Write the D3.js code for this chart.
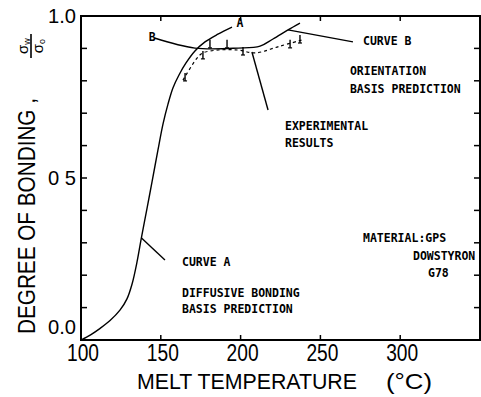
<!DOCTYPE html>
<html><head><meta charset="utf-8">
<script src="https://cdn.jsdelivr.net/npm/d3@7"></script>
<style>
html,body{margin:0;padding:0;background:#fff;}
svg{display:block;}
.ann{font-family:"DejaVu Sans Mono",monospace;font-weight:bold;font-size:11.5px;fill:#000;}
.big{font-family:"Liberation Sans",Arial,sans-serif;fill:#000;}
</style></head>
<body>
<svg id="c" width="481" height="397"></svg>
<script>
// ---- data ----
const xTicks = [100, 150, 200, 250, 300];
const xTickLabels = ["100", "150", "200", "250", "300"];
const yTicks = [0.0, 0.5, 1.0];
const yTickLabels = ["0.0", "0 5", "1.0"];
const yMinorTicks = [0.1,0.2,0.3,0.4,0.5,0.6,0.7,0.8,0.9];
// Curve A: diffusive bonding basis prediction
const curveA_T = [100, 106, 112, 118.2, 124.4, 128.8, 132.0, 135.1, 137.6, 141.4, 144.5, 148.2, 151.4, 154.5, 157.6, 161.4, 165.8, 171.4, 177.7, 185.8, 194.6];
const curveA_V = [0.0, 0.016, 0.036, 0.060, 0.092, 0.127, 0.173, 0.241, 0.309, 0.407, 0.488, 0.586, 0.667, 0.728, 0.778, 0.818, 0.855, 0.892, 0.920, 0.944, 0.966];
// Curve B: orientation basis prediction
const curveB_T = [146, 171.4, 198.4, 212.2, 220.3, 229.7, 237.2];
const curveB_V = [0.932, 0.901, 0.901, 0.907, 0.929, 0.957, 0.978];
// Experimental results (dashed)
const expLine_T = [163.9, 172.7, 176.4, 186, 198.4, 209, 224.7, 238.5];
const expLine_V = [0.802, 0.870, 0.886, 0.895, 0.895, 0.886, 0.907, 0.926];
const expPts_T = [165.2, 176.4, 180.8, 191.5, 201.5, 231, 237.2];
const expPts_V = [0.812, 0.880, 0.914, 0.914, 0.892, 0.914, 0.929];
// annotations: [text, T, V]
const annotations = [
  ["CURVE A", 163.3, 0.228],
  ["DIFFUSIVE BONDING", 163.3, 0.133],
  ["BASIS PREDICTION", 163.3, 0.083],
  ["CURVE B", 276.7, 0.910],
  ["ORIENTATION", 268.5, 0.818],
  ["BASIS PREDICTION", 268.5, 0.762],
  ["EXPERIMENTAL", 227.8, 0.648],
  ["RESULTS", 227.8, 0.596],
  ["MATERIAL:GPS", 276.7, 0.302],
  ["DOWSTYRON", 308, 0.247],
  ["G78", 317.4, 0.194],
  ["B", 142.5, 0.922],
  ["A", 197.5, 0.965]
];
// leader lines: [T1, V1, T2, V2]
const leaders = [
  [137.9, 0.315, 152.6, 0.247],
  [229.7, 0.957, 270.4, 0.920],
  [207.1, 0.889, 217.2, 0.710]
];

// ---- chart ----
const svg = d3.select("#c");
const x = d3.scaleLinear().domain([100, 350]).range([81, 480]);
const y = d3.scaleLinear().domain([0, 1]).range([340, 16]);

const g = svg.append("g");
// frame
g.append("rect").attr("x", x(100)).attr("y", y(1)).attr("width", x(350)-x(100)).attr("height", y(0)-y(1))
  .attr("fill","none").attr("stroke","#000").attr("stroke-width",2);

// ticks
g.selectAll(".lt").data(yMinorTicks).enter().append("line")
  .attr("x1", x(100)).attr("x2", x(100)+6).attr("y1", d=>y(d)).attr("y2", d=>y(d))
  .attr("stroke","#000").attr("stroke-width",1.5);
g.selectAll(".rt").data(yMinorTicks).enter().append("line")
  .attr("x1", x(350)).attr("x2", x(350)-6).attr("y1", d=>y(d)).attr("y2", d=>y(d))
  .attr("stroke","#000").attr("stroke-width",1.5);
g.selectAll(".tt").data(xTicks.slice(1)).enter().append("line")
  .attr("x1", d=>x(d)).attr("x2", d=>x(d)).attr("y1", y(1)).attr("y2", y(1)+5)
  .attr("stroke","#000").attr("stroke-width",1.5);
g.selectAll(".bt").data(xTicks.slice(1)).enter().append("line")
  .attr("x1", d=>x(d)).attr("x2", d=>x(d)).attr("y1", y(0)).attr("y2", y(0)-5)
  .attr("stroke","#000").attr("stroke-width",1.5);

// tick labels
g.selectAll(".yl").data(yTicks).enter().append("text").attr("class","big")
  .attr("x", 76).attr("y", (d,i)=> y(d) + (d===0 ? -6 : 7))
  .attr("text-anchor","end").attr("font-size",21)
  .attr("textLength",28).attr("lengthAdjust","spacingAndGlyphs")
  .text((d,i)=>yTickLabels[i]);
g.selectAll(".xl").data(xTicks).enter().append("text").attr("class","big")
  .attr("x", d=>x(d)+2).attr("y", 361)
  .attr("text-anchor","middle").attr("font-size",23)
  .attr("textLength",32).attr("lengthAdjust","spacingAndGlyphs")
  .text((d,i)=>xTickLabels[i]);

// axis titles
svg.append("text").attr("class","big").attr("x",137).attr("y",389).attr("font-size",22)
  .attr("textLength",220).attr("lengthAdjust","spacingAndGlyphs").text("MELT TEMPERATURE");
svg.append("text").attr("class","big").attr("x",386).attr("y",389).attr("font-size",22)
  .attr("textLength",46).attr("lengthAdjust","spacingAndGlyphs").text("(°C)");
svg.append("text").attr("class","big").attr("transform","translate(35,334) rotate(-90)")
  .attr("x",0).attr("y",0).attr("font-size",24)
  .attr("textLength",236).attr("lengthAdjust","spacingAndGlyphs").text("DEGREE  OF  BONDING ,");
// sigma ratio (rotated)
const sg = svg.append("g").attr("transform","translate(31,46) rotate(-90)");
sg.append("line").attr("x1",-12).attr("x2",12).attr("y1",0).attr("y2",0).attr("stroke","#000").attr("stroke-width",1.6);
const num = sg.append("text").attr("class","big").attr("x",0).attr("y",-3).attr("text-anchor","middle").attr("font-size",15);
num.append("tspan").text("σ"); num.append("tspan").attr("font-size",9).attr("dy",2).text("w");
const den = sg.append("text").attr("class","big").attr("x",0).attr("y",12).attr("text-anchor","middle").attr("font-size",15);
den.append("tspan").text("σ"); den.append("tspan").attr("font-size",9).attr("dy",2).text("o");

// curves
const line = d3.line().x(d=>x(d[0])).y(d=>y(d[1])).curve(d3.curveCatmullRom.alpha(0.5));
const A = curveA_T.map((t,i)=>[t, curveA_V[i]]);
const B = curveB_T.map((t,i)=>[t, curveB_V[i]]);
const E = expLine_T.map((t,i)=>[t, expLine_V[i]]);
g.append("path").attr("d", line(A)).attr("fill","none").attr("stroke","#000").attr("stroke-width",1.4);
g.append("path").attr("d", line(B)).attr("fill","none").attr("stroke","#000").attr("stroke-width",1.4);
g.append("path").attr("d", line(E)).attr("fill","none").attr("stroke","#000").attr("stroke-width",1.2)
  .attr("stroke-dasharray","3,3");
// experimental points (error-bar marks)
const P = expPts_T.map((t,i)=>[t, expPts_V[i]]);
g.selectAll(".ep").data(P).enter().append("line")
  .attr("x1", d=>x(d[0])).attr("x2", d=>x(d[0])).attr("y1", d=>y(d[1])-4).attr("y2", d=>y(d[1])+4)
  .attr("stroke","#000").attr("stroke-width",1.4);
g.selectAll(".ep2").data(P).enter().append("line")
  .attr("x1", d=>x(d[0])-2).attr("x2", d=>x(d[0])+2).attr("y1", d=>y(d[1])+4).attr("y2", d=>y(d[1])+4)
  .attr("stroke","#000").attr("stroke-width",1.2);

// leaders
g.selectAll(".ld").data(leaders).enter().append("line")
  .attr("x1", d=>x(d[0])).attr("y1", d=>y(d[1])).attr("x2", d=>x(d[2])).attr("y2", d=>y(d[3]))
  .attr("stroke","#000").attr("stroke-width",1.4);

// annotations
g.selectAll(".an").data(annotations).enter().append("text").attr("class","ann")
  .attr("x", d=>x(d[1])).attr("y", d=>y(d[2])).text(d=>d[0]);
</script>
</body></html>
